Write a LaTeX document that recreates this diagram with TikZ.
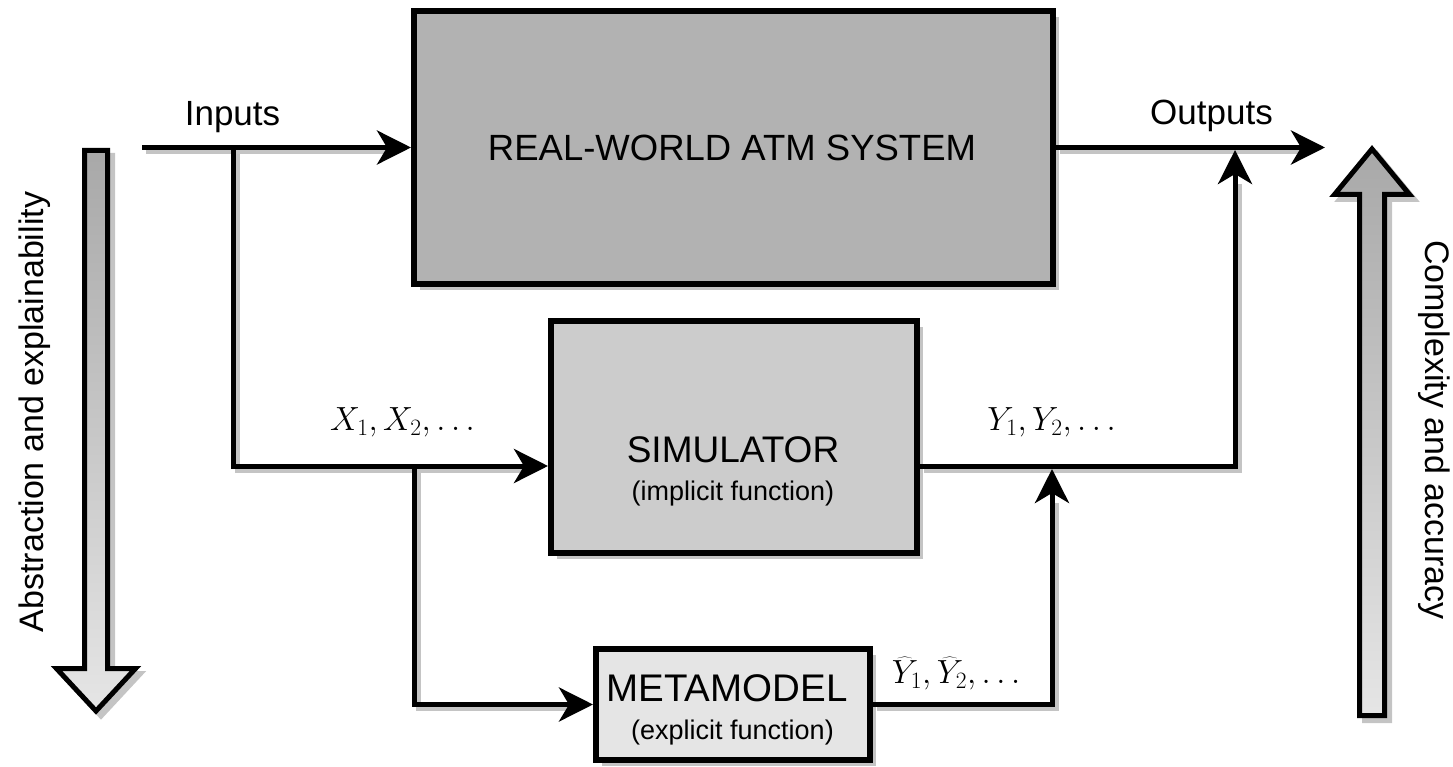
\RequirePackage{fix-cm}
\documentclass[tikz,border=0pt]{standalone}
\usepackage{fontspec}
\setmainfont{Liberation Sans}
\usetikzlibrary{arrows.meta,shadows,calc}
\definecolor{shadowgray}{gray}{0.77}
\begin{document}
\begin{tikzpicture}[x=1pt,y=-1pt,
  box/.style={draw, line width=6pt, inner sep=0pt,
    drop shadow={shadow xshift=6pt, shadow yshift=-6pt, fill=shadowgray, opacity=1}},
  conn/.style={line width=5pt, -{Stealth[length=34pt,width=34pt,inset=10pt]}},
  connshadow/.style={line width=5pt, draw=shadowgray, shorten >=30pt,
    transform canvas={shift={(4pt,-4pt)}}},
  txt/.style={inner sep=0pt, anchor=base},
  bigfont/.style={font=\fontsize{36.5}{40}\selectfont},
  subfont/.style={font=\fontsize{27}{32}\selectfont},
  mathfont/.style={font=\fontsize{33.5}{38}\selectfont},
  sidefont/.style={font=\fontsize{34}{40}\selectfont},
  bigarrow/.style={draw, line width=5pt, top color=black!34, bottom color=black!10},
  bigarrowshadow/.style={draw=shadowgray, fill=shadowgray, line width=5pt}
]
\useasboundingbox (0,0) rectangle (1453,767);

% side arrows
\path[bigarrowshadow, shift={(5,5)}] (84.5,150.5) -- (107.5,150.5) -- (107.5,668.5) -- (135.5,668.5) -- (96,711) -- (56.5,668.5) -- (84.5,668.5) -- cycle;
\path[bigarrow] (84.5,150.5) -- (107.5,150.5) -- (107.5,668.5) -- (135.5,668.5) -- (96,711) -- (56.5,668.5) -- (84.5,668.5) -- cycle;
\path[bigarrowshadow, shift={(5,5)}] (1359.5,715.5) -- (1384.5,715.5) -- (1384.5,194.5) -- (1409.5,194.5) -- (1372,149) -- (1334.5,194.5) -- (1359.5,194.5) -- cycle;
\path[bigarrow] (1359.5,715.5) -- (1384.5,715.5) -- (1384.5,194.5) -- (1409.5,194.5) -- (1372,149) -- (1334.5,194.5) -- (1359.5,194.5) -- cycle;

\node[sidefont, rotate=90, inner sep=0pt] (leftlbl) at (35,412) {Abstraction and explainability};
\node[sidefont, rotate=-90, inner sep=0pt] (rightlbl) at (1434,430) {Complexity and accuracy};

% boxes
\node[box, fill=black!30, minimum width=639pt, minimum height=273pt] (real) at (733.5,147.5) {};
\node[box, fill=black!20, minimum width=366pt, minimum height=232pt] (sim) at (734,437) {};
\node[box, fill=black!10, minimum width=274pt, minimum height=111pt] (meta) at (733,704.5) {};

% coordinates
\coordinate (inStart) at (142,147.5);
\coordinate (b1) at (233,147.5);
\coordinate (simIn) at ([yshift=-29pt]sim.west);
\coordinate (simOut) at ([yshift=-29pt]sim.east);
\coordinate (b2) at (414,466);
\coordinate (outJoin) at (1235,150);
\coordinate (outEnd) at (1325,147.5);
\coordinate (metaJoin) at (1052,469);

% connector shadows
\draw[connshadow] (inStart) -- (real.west);
\draw[connshadow] (b1) |- (simIn);
\draw[connshadow] (b2) |- (meta.west);
\draw[connshadow] (simOut) -| (outJoin);
\draw[connshadow] (real.east) -- (outEnd);
\draw[connshadow] (meta.east) -| (metaJoin);

% connectors
\draw[conn] (inStart) -- (real.west);
\draw[conn] (b1) |- (simIn);
\draw[conn] (b2) |- (meta.west);
\draw[conn] (simOut) -| (outJoin);
\draw[conn] (real.east) -- (outEnd);
\draw[conn] (meta.east) -| (metaJoin);

% texts
\node[txt, bigfont] (realtxt) at (732,161) {REAL-WORLD ATM SYSTEM};
\node[txt, font=\fontsize{37}{40}\selectfont] (simtxt) at (733,462) {SIMULATOR};
\node[txt, subfont] (simsub) at (733,500) {(implicit function)};
\node[txt, font=\fontsize{38.5}{42}\selectfont] (metatxt) at (727,701) {METAMODEL};
\node[txt, subfont] (metasub) at (732.5,739) {(explicit function)};
\node[txt, font=\fontsize{35}{40}\selectfont] (inlbl) at (232.5,126) {Inputs};
\node[txt, font=\fontsize{35}{40}\selectfont] (outlbl) at (1211.5,125) {Outputs};
\node[txt, mathfont] (xlbl) at (402.5,430) {$X_1, X_2, \ldots$};
\node[txt, mathfont] (ylbl) at (1051.5,430) {$Y_1, Y_2, \ldots$};
\node[txt, mathfont] (yhlbl) at (956,683) {$\widehat{Y}_1, \widehat{Y}_2, \ldots$};
\end{tikzpicture}
\end{document}
